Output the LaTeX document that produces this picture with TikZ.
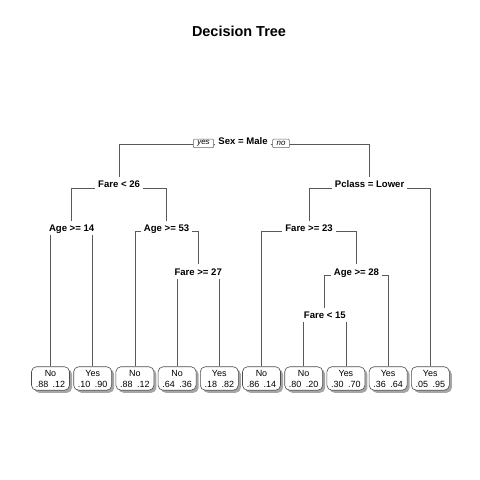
\documentclass[tikz,border=0pt]{standalone}
\usepackage{fontspec}
\setmainfont{Liberation Sans}
\usetikzlibrary{backgrounds,shadows}
\definecolor{branch}{gray}{0.35}
\definecolor{leafborder}{gray}{0.3}
\tikzset{
  split/.style={anchor=base, fill=white, inner xsep=3bp, inner ysep=0pt,
    text height=7bp, text depth=3.5bp, font=\fontsize{9.6}{11}\bfseries},
  leafbox/.style={draw=leafborder, line width=0.6bp, fill=white, rounded corners=5bp,
    minimum width=38bp, minimum height=23.5bp, inner sep=0pt, align=center,
    font=\fontsize{9}{11}\selectfont,
    drop shadow={shadow xshift=2.5bp, shadow yshift=-2.5bp, fill=black!35, opacity=1}},
  yn/.style={draw=black!60, line width=0.5bp, fill=white, rounded corners=1bp,
    inner xsep=4bp, inner ysep=0pt, minimum height=8.5bp,
    font=\fontsize{8}{8}\itshape},
  edge/.style={draw=branch, line width=0.7bp},
  titlestyle/.style={font=\fontsize{14.5}{16}\bfseries}
}
\newcommand{\lv}[2]{#1\hspace{4.5bp}#2}
\begin{document}
\begin{tikzpicture}[x=1bp,y=-1bp]
\useasboundingbox (0,0) rectangle (480,480);
\node[titlestyle] (title) at (239,31) {Decision Tree};
% internal nodes
\node[split] (root) at (243,144.5) {Sex = Male};
\node[split] (f26) at (119.1,188) {Fare < 26};
\node[split] (pc) at (369.6,188) {Pclass = Lower};
\node[split] (a14) at (71.6,231.5) {Age >= 14};
\node[split] (a53) at (166.55,231.5) {Age >= 53};
\node[split] (f23) at (309,231.5) {Fare >= 23};
\node[split] (f27) at (198.2,275) {Fare >= 27};
\node[split] (a28) at (356.45,275) {Age >= 28};
\node[split] (f15) at (324.8,318.5) {Fare < 15};
% leaves
\node[leafbox] (l1) at (50.5,378.5) {No\\\lv{.88}{.12}};
\node[leafbox] (l2) at (92.7,378.5) {Yes\\\lv{.10}{.90}};
\node[leafbox] (l3) at (134.9,378.5) {No\\\lv{.88}{.12}};
\node[leafbox] (l4) at (177.1,378.5) {No\\\lv{.64}{.36}};
\node[leafbox] (l5) at (219.3,378.5) {Yes\\\lv{.18}{.82}};
\node[leafbox] (l6) at (261.5,378.5) {No\\\lv{.86}{.14}};
\node[leafbox] (l7) at (303.7,378.5) {No\\\lv{.80}{.20}};
\node[leafbox] (l8) at (345.9,378.5) {Yes\\\lv{.30}{.70}};
\node[leafbox] (l9) at (388.1,378.5) {Yes\\\lv{.36}{.64}};
\node[leafbox] (l10) at (430.3,378.5) {Yes\\\lv{.05}{.95}};
% yes / no
\node[yn] (yes) at (203.5,143.5) {yes};
\node[yn] (no) at (281,143.5) {no};
\begin{scope}[on background layer]
\fill[white] (0,0) rectangle (480,480);
\draw[edge] (root.base) -| ([yshift=11bp]f26.base);
\draw[edge] (root.base) -| ([yshift=11bp]pc.base);
\draw[edge] (f26.base) -| ([yshift=11bp]a14.base);
\draw[edge] (f26.base) -| ([yshift=11bp]a53.base);
\draw[edge] (a14.base) -| (l1.north);
\draw[edge] (a14.base) -| (l2.north);
\draw[edge] (a53.base) -| (l3.north);
\draw[edge] (a53.base) -| ([yshift=11bp]f27.base);
\draw[edge] (f27.base) -| (l4.north);
\draw[edge] (f27.base) -| (l5.north);
\draw[edge] (pc.base) -| ([yshift=11bp]f23.base);
\draw[edge] (pc.base) -| (l10.north);
\draw[edge] (f23.base) -| (l6.north);
\draw[edge] (f23.base) -| ([yshift=11bp]a28.base);
\draw[edge] (a28.base) -| ([yshift=11bp]f15.base);
\draw[edge] (a28.base) -| (l9.north);
\draw[edge] (f15.base) -| (l7.north);
\draw[edge] (f15.base) -| (l8.north);
\end{scope}
\end{tikzpicture}
\end{document}
